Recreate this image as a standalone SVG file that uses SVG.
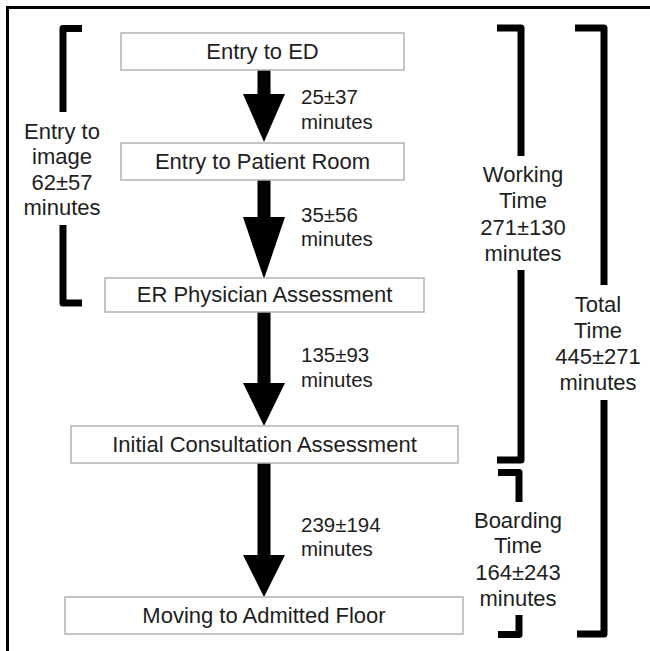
<svg xmlns="http://www.w3.org/2000/svg" width="650" height="651" viewBox="0 0 650 651">
<style>
  text { font-family: "Liberation Sans", Arial, sans-serif; font-size: 22px; fill: #1e1e1e; }
  .c { text-anchor: middle; }
  .lbl { font-size: 20.5px; }
  .box { fill: #fff; stroke: #b3b3b3; stroke-width: 1.5; }
  .br { fill: none; stroke: #000; stroke-width: 7; stroke-linejoin: round; }
  .arr { fill: #000; }
  .frame { fill: none; stroke: #000; stroke-width: 3; }
</style>
<rect width="650" height="651" fill="#fff"/>
<path class="frame" d="M7.5 651 V7.5 H650"/>

<g id="connectors">
  <polygon class="arr" points="257.5,70 270.5,70 270.5,94 285,94 264,142 243,94 257.5,94"/>
  <polygon class="arr" points="257.5,180 270.5,180 270.5,217 285,217 264,279 243,217 257.5,217"/>
  <polygon class="arr" points="257.5,312 270.5,312 270.5,383 285,383 264,426 243,383 257.5,383"/>
  <polygon class="arr" points="257.5,463 270.5,463 270.5,555 285,555 264,597 243,555 257.5,555"/>
  <text class="lbl" x="301" y="104">25±37</text>
  <text class="lbl" x="301" y="129">minutes</text>
  <text class="lbl" x="301" y="222">35±56</text>
  <text class="lbl" x="301" y="246">minutes</text>
  <text class="lbl" x="301" y="362">135±93</text>
  <text class="lbl" x="301" y="387">minutes</text>
  <text class="lbl" x="301" y="532">239±194</text>
  <text class="lbl" x="301" y="556">minutes</text>
</g>

<g id="node-entry-ed">
  <rect class="box" x="121" y="33" width="283" height="37"/>
  <text class="c" x="262.5" y="59">Entry to ED</text>
</g>
<g id="node-patient-room">
  <rect class="box" x="121" y="143" width="283" height="37"/>
  <text class="c" x="262.5" y="169">Entry to Patient Room</text>
</g>
<g id="node-er-physician">
  <rect class="box" x="105" y="278" width="319" height="34"/>
  <text class="c" x="264.5" y="302">ER Physician Assessment</text>
</g>
<g id="node-initial-consult">
  <rect class="box" x="71" y="426" width="387" height="37"/>
  <text class="c" x="264.5" y="452">Initial Consultation Assessment</text>
</g>
<g id="node-admitted-floor">
  <rect class="box" x="65" y="597" width="398" height="37"/>
  <text class="c" x="264" y="623">Moving to Admitted Floor</text>
</g>

<g id="bracket-entry-image">
  <path class="br" d="M82 28.5 H63 V112"/>
  <path class="br" d="M63 225 V303 H82"/>
  <text class="c" x="62" y="139">Entry to</text>
  <text class="c" x="62" y="164">image</text>
  <text class="c" x="62" y="190">62±57</text>
  <text class="c" x="62" y="215">minutes</text>
</g>
<g id="bracket-working">
  <path class="br" d="M497 28 H521 V156"/>
  <path class="br" d="M521 270 V460 H497"/>
  <text class="c" x="523" y="182">Working</text>
  <text class="c" x="523" y="208">Time</text>
  <text class="c" x="523" y="235">271±130</text>
  <text class="c" x="523" y="261">minutes</text>
</g>
<g id="bracket-boarding">
  <path class="br" d="M498 472.5 H519 V502"/>
  <path class="br" d="M519 615 V634.5 H498"/>
  <text class="c" x="518" y="528">Boarding</text>
  <text class="c" x="518" y="553">Time</text>
  <text class="c" x="518" y="580">164±243</text>
  <text class="c" x="518" y="606">minutes</text>
</g>
<g id="bracket-total">
  <path class="br" d="M575 28 H604 V285"/>
  <path class="br" d="M604 400 V634 H577"/>
  <text class="c" x="598" y="312">Total</text>
  <text class="c" x="598" y="338">Time</text>
  <text class="c" x="598" y="364">445±271</text>
  <text class="c" x="598" y="390">minutes</text>
</g>
</svg>
